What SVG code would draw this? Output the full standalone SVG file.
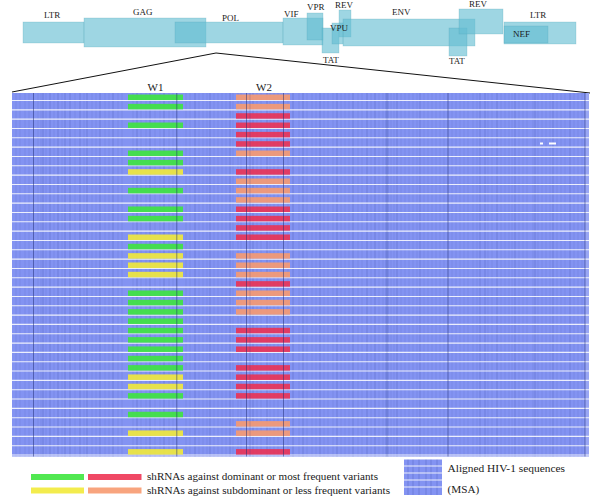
<svg xmlns="http://www.w3.org/2000/svg" width="600" height="497" viewBox="0 0 600 497">
<style>
.g{fill:#62bdd2;fill-opacity:0.62;stroke:#4a9ab2;stroke-opacity:0.35;stroke-width:0.6}
.lb{font-family:"Liberation Serif","Times New Roman",serif;font-size:9px;fill:#1a1a1a}
.t{font-family:"Liberation Serif","Times New Roman",serif;fill:#1a1a1a}
.G{fill:#3ee63e;fill-opacity:0.9}
.Y{fill:#f2ea3a;fill-opacity:0.9}
.R{fill:#ee3050;fill-opacity:0.88}
.O{fill:#f79a70;fill-opacity:0.9}
.vf{stroke:#2a3a8a;stroke-opacity:0.1;stroke-width:1;fill:none}
.vm{stroke:#2a3a8a;stroke-opacity:0.22;stroke-width:1;fill:none}
.vs{stroke:#1e2a70;stroke-opacity:0.5;stroke-width:1;fill:none}
.wl{stroke:#ffffff;stroke-opacity:0.85;stroke-width:1.1;fill:none}
</style>
<rect width="600" height="497" fill="#ffffff"/>

<g id="genome">
  <g id="ltr5"><rect class="g" x="23" y="22" width="61" height="21"/><text class="lb" x="44" y="18">LTR</text></g>
  <g id="gag"><rect class="g" x="84" y="18" width="122" height="29"/><text class="lb" x="133" y="15">GAG</text></g>
  <g id="pol"><rect class="g" x="175" y="22" width="108" height="21"/><text class="lb" x="222" y="20.5">POL</text></g>
  <g id="vif"><rect class="g" x="283" y="18" width="40" height="27"/><text class="lb" x="284" y="16.5">VIF</text></g>
  <g id="vpr"><rect class="g" x="307" y="13" width="16" height="27"/><text class="lb" x="307" y="10">VPR</text></g>
  <g id="tat1"><rect class="g" x="322" y="28" width="17" height="25"/><text class="lb" x="323" y="63">TAT</text></g>
  <g id="rev1"><rect class="g" x="339" y="10" width="12" height="27"/><text class="lb" x="335" y="7.5">REV</text></g>
  <g id="env"><rect class="g" x="343" y="19" width="132" height="27"/><text class="lb" x="392" y="15">ENV</text></g>
  <g id="vpu"><rect class="g" x="332" y="23" width="11" height="21"/><text class="lb" x="330" y="31">VPU</text></g>
  <g id="tat2"><rect class="g" x="449" y="28" width="18" height="28"/><text class="lb" x="449" y="64">TAT</text></g>
  <g id="rev2"><rect class="g" x="459" y="9" width="44" height="25"/><text class="lb" x="469" y="7">REV</text></g>
  <g id="ltr3"><rect class="g" x="504" y="22" width="72" height="22"/><text class="lb" x="530" y="18">LTR</text></g>
  <g id="nef"><rect class="g" x="504" y="26" width="44" height="17"/><text class="lb" x="513" y="37">NEF</text></g>
</g>

<g id="connectors">
  <polyline points="12,92 216,53 590,93" fill="none" stroke="#111" stroke-width="1"/>
</g>

<g id="msa">
  <rect x="12" y="93" width="577" height="363.5" fill="#8393f2"/>
  <path class="vf" d="M16 93V456.5M20 93V456.5M25 93V456.5M29 93V456.5M38 93V456.5M41 93V456.5M46 93V456.5M54 93V456.5M62 93V456.5M75 93V456.5M84 93V456.5M92 93V456.5M96 93V456.5M105 93V456.5M109 93V456.5M118 93V456.5M122 93V456.5M133 93V456.5M141 93V456.5M146 93V456.5M155 93V456.5M160 93V456.5M169 93V456.5M173 93V456.5M186 93V456.5M190 93V456.5M199 93V456.5M203 93V456.5M207 93V456.5M214 93V456.5M218 93V456.5M222 93V456.5M226 93V456.5M233 93V456.5M238 93V456.5M241 93V456.5M257 93V456.5M261 93V456.5M270 93V456.5M274 93V456.5M278 93V456.5M288 93V456.5M299 93V456.5M307 93V456.5M312 93V456.5M316 93V456.5M324 93V456.5M328 93V456.5M333 93V456.5M341 93V456.5M345 93V456.5M349 93V456.5M358 93V456.5M362 93V456.5M371 93V456.5M379 93V456.5M383 93V456.5M391 93V456.5M394 93V456.5M401 93V456.5M405 93V456.5M409 93V456.5M413 93V456.5M417 93V456.5M424 93V456.5M428 93V456.5M432 93V456.5M436 93V456.5M440 93V456.5M444 93V456.5M452 93V456.5M456 93V456.5M460 93V456.5M464 93V456.5M468 93V456.5M473 93V456.5M477 93V456.5M488 93V456.5M492 93V456.5M501 93V456.5M505 93V456.5M509 93V456.5M512 93V456.5M519 93V456.5M523 93V456.5M527 93V456.5M533 93V456.5M538 93V456.5M542 93V456.5M546 93V456.5M550 93V456.5M557 93V456.5M561 93V456.5M565 93V456.5M574 93V456.5M578 93V456.5M582 93V456.5"/>
  <path class="vm" d="M43 93V456.5M50 93V456.5M58 93V456.5M65 93V456.5M70 93V456.5M80 93V456.5M87 93V456.5M100 93V456.5M113 93V456.5M137 93V456.5M150 93V456.5M164 93V456.5M195 93V456.5M210 93V456.5M230 93V456.5M253 93V456.5M267 93V456.5M293 93V456.5M303 93V456.5M320 93V456.5M337 93V456.5M353 93V456.5M367 93V456.5M375 93V456.5M386 93V456.5M388 93V456.5M397 93V456.5M420 93V456.5M480 93V456.5M485 93V456.5M497 93V456.5M515 93V456.5M535 93V456.5M553 93V456.5M570 93V456.5"/>
  <path class="wl" d="M12 100.5H589M12 109.83H589M12 119.16H589M12 128.49H589M12 137.82H589M12 147.15H589M12 156.48H589M12 165.81H589M12 175.14H589M12 184.47H589M12 193.8H589M12 203.13H589M12 212.46H589M12 221.79H589M12 231.12H589M12 240.45H589M12 249.78H589M12 259.11H589M12 268.44H589M12 277.77H589M12 287.1H589M12 296.43H589M12 305.76H589M12 315.09H589M12 324.42H589M12 333.75H589M12 343.08H589M12 352.41H589M12 361.74H589M12 371.07H589M12 380.4H589M12 389.73H589M12 399.06H589M12 408.39H589M12 417.72H589M12 427.05H589M12 436.38H589M12 445.71H589M12 455.04H589"/>
  <rect x="585" y="93" width="4" height="363.5" fill="#ffffff" fill-opacity="0.18"/>
  <rect x="540" y="142.5" width="3" height="2" fill="#ffffff"/>
  <rect x="549" y="142.5" width="7" height="2" fill="#ffffff"/>
</g>

<g id="w1">
  <text class="t" x="155.5" y="90.5" font-size="11" text-anchor="middle">W1</text>
  <rect class="G" x="128" y="94.55" width="55" height="5.5"/>
  <rect class="G" x="128" y="103.88" width="55" height="5.5"/>
  <rect class="G" x="128" y="122.54" width="55" height="5.5"/>
  <rect class="G" x="128" y="150.53" width="55" height="5.5"/>
  <rect class="G" x="128" y="159.86" width="55" height="5.5"/>
  <rect class="Y" x="128" y="169.19" width="55" height="5.5"/>
  <rect class="G" x="128" y="187.85" width="55" height="5.5"/>
  <rect class="G" x="128" y="206.51" width="55" height="5.5"/>
  <rect class="G" x="128" y="215.84" width="55" height="5.5"/>
  <rect class="Y" x="128" y="234.5" width="55" height="5.5"/>
  <rect class="G" x="128" y="243.83" width="55" height="5.5"/>
  <rect class="Y" x="128" y="253.16" width="55" height="5.5"/>
  <rect class="Y" x="128" y="262.49" width="55" height="5.5"/>
  <rect class="Y" x="128" y="271.82" width="55" height="5.5"/>
  <rect class="G" x="128" y="290.48" width="55" height="5.5"/>
  <rect class="G" x="128" y="299.81" width="55" height="5.5"/>
  <rect class="G" x="128" y="309.14" width="55" height="5.5"/>
  <rect class="G" x="128" y="318.47" width="55" height="5.5"/>
  <rect class="G" x="128" y="327.8" width="55" height="5.5"/>
  <rect class="G" x="128" y="337.13" width="55" height="5.5"/>
  <rect class="G" x="128" y="346.46" width="55" height="5.5"/>
  <rect class="G" x="128" y="355.79" width="55" height="5.5"/>
  <rect class="G" x="128" y="365.12" width="55" height="5.5"/>
  <rect class="Y" x="128" y="374.45" width="55" height="5.5"/>
  <rect class="Y" x="128" y="383.78" width="55" height="5.5"/>
  <rect class="G" x="128" y="393.11" width="55" height="5.5"/>
  <rect class="G" x="128" y="411.77" width="55" height="5.5"/>
  <rect class="Y" x="128" y="430.43" width="55" height="5.5"/>
  <rect class="Y" x="128" y="449.09" width="55" height="5.5"/>
</g>

<g id="w2">
  <text class="t" x="264" y="90.5" font-size="11" text-anchor="middle">W2</text>
  <rect class="O" x="236" y="94.55" width="54" height="5.5"/>
  <rect class="O" x="236" y="103.88" width="54" height="5.5"/>
  <rect class="R" x="236" y="113.21" width="54" height="5.5"/>
  <rect class="R" x="236" y="122.54" width="54" height="5.5"/>
  <rect class="R" x="236" y="131.87" width="54" height="5.5"/>
  <rect class="R" x="236" y="141.2" width="54" height="5.5"/>
  <rect class="O" x="236" y="150.53" width="54" height="5.5"/>
  <rect class="R" x="236" y="169.19" width="54" height="5.5"/>
  <rect class="O" x="236" y="178.52" width="54" height="5.5"/>
  <rect class="O" x="236" y="187.85" width="54" height="5.5"/>
  <rect class="O" x="236" y="197.18" width="54" height="5.5"/>
  <rect class="R" x="236" y="206.51" width="54" height="5.5"/>
  <rect class="R" x="236" y="215.84" width="54" height="5.5"/>
  <rect class="R" x="236" y="225.17" width="54" height="5.5"/>
  <rect class="R" x="236" y="234.5" width="54" height="5.5"/>
  <rect class="O" x="236" y="253.16" width="54" height="5.5"/>
  <rect class="O" x="236" y="262.49" width="54" height="5.5"/>
  <rect class="O" x="236" y="271.82" width="54" height="5.5"/>
  <rect class="R" x="236" y="281.15" width="54" height="5.5"/>
  <rect class="O" x="236" y="290.48" width="54" height="5.5"/>
  <rect class="O" x="236" y="299.81" width="54" height="5.5"/>
  <rect class="O" x="236" y="309.14" width="54" height="5.5"/>
  <rect class="R" x="236" y="327.8" width="54" height="5.5"/>
  <rect class="R" x="236" y="337.13" width="54" height="5.5"/>
  <rect class="R" x="236" y="346.46" width="54" height="5.5"/>
  <rect class="R" x="236" y="365.12" width="54" height="5.5"/>
  <rect class="R" x="236" y="374.45" width="54" height="5.5"/>
  <rect class="R" x="236" y="383.78" width="54" height="5.5"/>
  <rect class="R" x="236" y="393.11" width="54" height="5.5"/>
  <rect class="O" x="236" y="421.1" width="54" height="5.5"/>
  <rect class="O" x="236" y="430.43" width="54" height="5.5"/>
  <rect class="R" x="236" y="449.09" width="54" height="5.5"/>
</g>

<g id="msa-strong">
  <path class="vs" d="M33.5 93V456.5M176.8 93V456.5M246.5 93V456.5M283.5 93V456.5M448 93V456.5M585 93V456.5"/>
  <path class="vm" d="M250 93V456.5M387 93V456.5"/>
</g>

<g id="legend">
  <rect class="G" x="31" y="474" width="53" height="6"/>
  <rect class="R" x="88" y="474" width="53.5" height="6"/>
  <rect class="Y" x="31" y="487.5" width="53" height="6"/>
  <rect class="O" x="88" y="487.5" width="53.5" height="6"/>
  <text class="t" x="147" y="479.5" font-size="11.2" textLength="231" lengthAdjust="spacingAndGlyphs">shRNAs against dominant or most frequent variants</text>
  <text class="t" x="147" y="493.5" font-size="11.2" textLength="243" lengthAdjust="spacingAndGlyphs">shRNAs against subdominant or less frequent variants</text>
  <g id="legend-msa">
    <rect x="404" y="459.5" width="38" height="35.5" fill="#8393f2"/>
    <path class="vm" d="M408 459.5V495M413 459.5V495M419 459.5V495M426 459.5V495M431 459.5V495M437 459.5V495"/>
    <path class="wl" d="M404 466H442M404 473H442M404 480H442M404 487H442"/>
  </g>
  <text class="t" x="447.5" y="472" font-size="11.2" textLength="117.5" lengthAdjust="spacingAndGlyphs">Aligned HIV-1 sequences</text>
  <text class="t" x="447.5" y="493" font-size="11.2">(MSA)</text>
</g>
</svg>
